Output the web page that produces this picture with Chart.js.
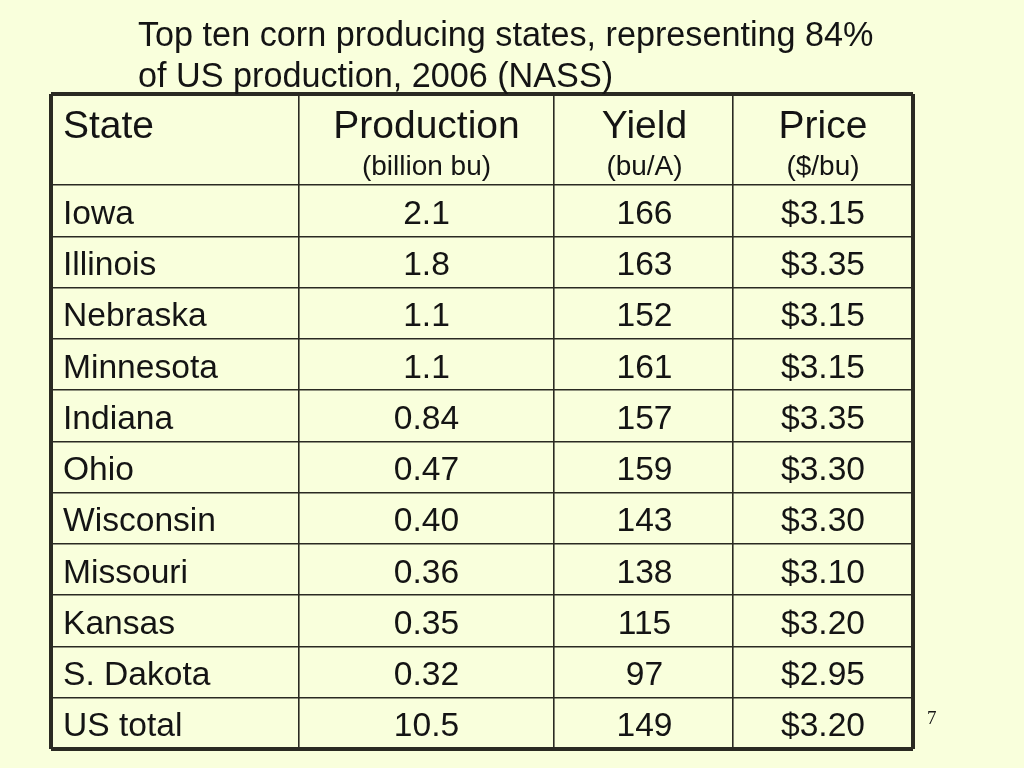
<!DOCTYPE html>
<html>
<head>
<meta charset="utf-8">
<title>Top ten corn producing states</title>
<script src="https://cdn.jsdelivr.net/npm/chart.js@4"></script>
<style>
  html, body { margin: 0; padding: 0; background: #f9ffdc; }
  #wrap { position: relative; width: 1024px; height: 768px; overflow: hidden; }
  canvas { display: block; }
</style>
</head>
<body>
<div id="wrap"><canvas id="tableChart" width="1024" height="768"></canvas></div>
<script>
// --- Table data ---
const titleLines = ['Top ten corn producing states, representing 84%', 'of US production, 2006 (NASS)'];
const pageNumber = '7';

const headers = ['State', 'Production', 'Yield', 'Price'];
const subHeaders = ['', '(billion bu)', '(bu/A)', '($/bu)'];

const states = ['Iowa', 'Illinois', 'Nebraska', 'Minnesota', 'Indiana', 'Ohio', 'Wisconsin', 'Missouri', 'Kansas', 'S. Dakota', 'US total'];
const production = ['2.1', '1.8', '1.1', '1.1', '0.84', '0.47', '0.40', '0.36', '0.35', '0.32', '10.5'];
const yields = [166, 163, 152, 161, 157, 159, 143, 138, 115, 97, 149];
const prices = [3.15, 3.35, 3.15, 3.15, 3.35, 3.30, 3.30, 3.10, 3.20, 2.95, 3.20];

// --- Grid ---
// column widths and row heights in scale units
const columnEdges = [0, 248, 503, 682, 862];
const rowEdges = [0, 1.78, 2.78, 3.78, 4.78, 5.78, 6.78, 7.78, 8.78, 9.78, 10.78, 11.78, 12.78];

const INK = '#141414';
const LINE = '#2a2a22';
const FONT = '"Liberation Sans", Arial, sans-serif';

const stateInset = 12;
const headerY = 0.56;
const subHeaderY = 1.36;

function columnCentre(i) {
    // the yield column sits slightly right of its middle in the original
    return (columnEdges[i] + columnEdges[i + 1]) / 2 + (i === 2 ? 1 : 0);
}

function rowCentre(i) {
    return (rowEdges[i + 1] + rowEdges[i + 2]) / 2;
}

function bodyColumn(label, texts, col) {
    return {
        label: label,
        cellText: texts,
        cellFont: '33.6px ' + FONT,
        cellAlign: col === 0 ? 'left' : 'center',
        data: texts.map((_, i) => ({ x: col === 0 ? stateInset : columnCentre(col), y: rowCentre(i) })),
        pointRadius: 0
    };
}

function headerRow(texts, y, size) {
    return {
        label: 'header',
        cellText: texts,
        cellFont: size + 'px ' + FONT,
        cellAlign: 'center',
        cellAligns: texts.map((_, i) => i === 0 ? 'left' : 'center'),
        data: texts.map((_, i) => ({ x: i === 0 ? stateInset : columnCentre(i), y: y })),
        pointRadius: 0
    };
}

// Edge lines come from the scale, so outer ones get the heavier stroke
function edgeTicks(edges) {
    return scale => { scale.ticks = edges.map(v => ({ value: v })); };
}

function edgeWidth(edges) {
    return ctx => (ctx.tick && (ctx.tick.value === edges[0] || ctx.tick.value === edges[edges.length - 1])) ? 4 : 1.6;
}

// Draws the cell text at the points the scales worked out, plus the slide text
const cellTextPlugin = {
    id: 'cellText',
    afterDatasetsDraw(chart) {
        const c = chart.ctx;
        c.save();
        c.fillStyle = INK;
        c.textBaseline = 'alphabetic';

        chart.data.datasets.forEach((ds, i) => {
            c.font = ds.cellFont;
            chart.getDatasetMeta(i).data.forEach((pt, j) => {
                c.textAlign = ds.cellAligns ? ds.cellAligns[j] : ds.cellAlign;
                c.fillText(ds.cellText[j], pt.x, pt.y + parseFloat(ds.cellFont) * 0.39);
            });
        });

        c.textAlign = 'left';
        c.font = '34.2px ' + FONT;
        titleLines.forEach((line, i) => c.fillText(line, 138, 46 + i * 41));

        c.font = '19px "Liberation Serif", "Times New Roman", serif';
        c.fillText(pageNumber, 927, 724);
        c.restore();
    }
};

new Chart(document.getElementById('tableChart'), {
    type: 'scatter',
    data: {
        datasets: [
            headerRow(headers, headerY, 39),
            headerRow(subHeaders, subHeaderY, 28),
            bodyColumn('State', states, 0),
            bodyColumn('Production', production, 1),
            bodyColumn('Yield', yields.map(String), 2),
            bodyColumn('Price', prices.map(p => '$' + p.toFixed(2)), 3)
        ]
    },
    options: {
        responsive: false,
        animation: false,
        layout: { padding: { left: 51, top: 94, right: 111, bottom: 19 } },
        plugins: { legend: { display: false }, tooltip: { enabled: false } },
        scales: {
            x: {
                type: 'linear',
                min: columnEdges[0],
                max: columnEdges[columnEdges.length - 1],
                afterBuildTicks: edgeTicks(columnEdges),
                ticks: { display: false },
                border: { display: false },
                grid: { color: LINE, drawTicks: false, lineWidth: edgeWidth(columnEdges) }
            },
            y: {
                type: 'linear',
                reverse: true,
                min: rowEdges[0],
                max: rowEdges[rowEdges.length - 1],
                afterBuildTicks: edgeTicks(rowEdges),
                ticks: { display: false },
                border: { display: false },
                grid: { color: LINE, drawTicks: false, lineWidth: edgeWidth(rowEdges) }
            }
        }
    },
    plugins: [cellTextPlugin]
});
</script>
</body>
</html>
